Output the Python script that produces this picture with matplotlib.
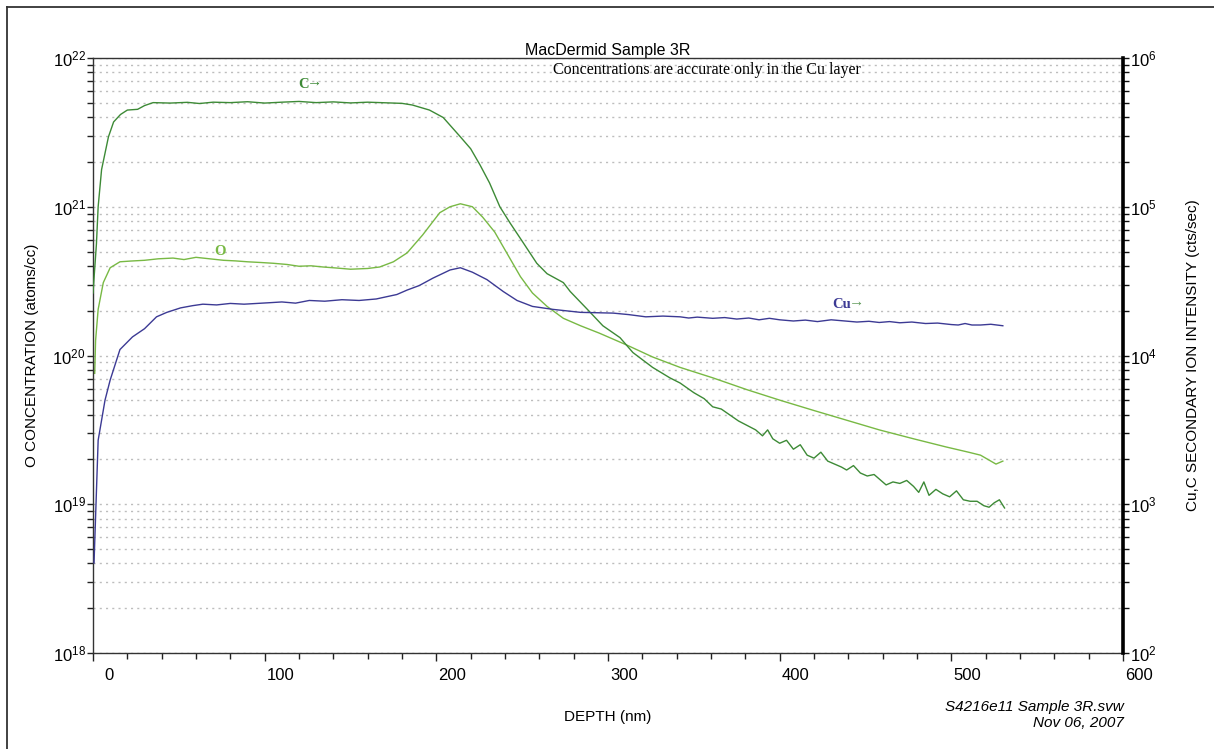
import matplotlib
matplotlib.use('Agg')
import matplotlib.pyplot as plt
import matplotlib.transforms as mtransforms
from matplotlib.lines import Line2D
from matplotlib.ticker import LogLocator, FixedLocator, MultipleLocator, NullFormatter
import numpy as np

plt.rcParams['font.family'] = ['Liberation Sans', 'DejaVu Sans']
plt.rcParams['mathtext.fontset'] = 'custom'
plt.rcParams['mathtext.rm'] = 'Liberation Sans'
plt.rcParams['mathtext.default'] = 'regular'

# values, log10 of the plotted quantity
# C and Cu: secondary ion intensity (cts/sec), right axis
c_depth = [0, 2, 3, 5, 7, 9, 12, 16, 20, 26, 30, 35, 45, 55, 62, 70, 80, 90, 100,
           110, 120, 130, 140, 150, 160, 170, 180, 186, 196, 204, 214, 220, 225.5,
           231, 237, 243, 250.5, 258.5, 264.5, 274, 278, 288, 297, 307, 314.5, 326,
           336, 342, 350, 356, 361, 366, 371, 376, 381, 386, 390, 393, 396, 400, 404,
           408, 412, 416, 420, 424, 428, 432, 436, 439, 443, 447, 451, 455, 458, 462,
           466, 470, 474, 478, 481, 484, 487, 491, 495, 499, 503, 507, 511, 515, 519,
           522, 525, 528, 531]
c_log = [4.42, 4.75, 5.0, 5.25, 5.36, 5.47, 5.57, 5.62, 5.65, 5.655, 5.68, 5.70,
         5.697, 5.702, 5.694, 5.703, 5.700, 5.706, 5.697, 5.703, 5.708, 5.700, 5.705,
         5.698, 5.703, 5.699, 5.695, 5.684, 5.65, 5.60, 5.47, 5.39, 5.28, 5.16, 5.00,
         4.89, 4.76, 4.62, 4.55, 4.49, 4.43, 4.31, 4.20, 4.12, 4.02, 3.92, 3.85, 3.815,
         3.75, 3.71, 3.655, 3.64, 3.60, 3.56, 3.53, 3.50, 3.46, 3.50, 3.44, 3.41, 3.43,
         3.37, 3.40, 3.33, 3.31, 3.35, 3.29, 3.27, 3.25, 3.23, 3.26, 3.21, 3.19, 3.20,
         3.17, 3.13, 3.15, 3.14, 3.16, 3.12, 3.08, 3.15, 3.06, 3.10, 3.07, 3.05, 3.09,
         3.03, 3.02, 3.02, 2.99, 2.98, 3.01, 3.03, 2.975]

cu_depth = [0.6, 3, 7, 10, 15.7, 23, 30, 37, 43, 51, 58, 64, 72, 80, 88, 95.5, 103,
            110, 118, 126, 135, 145, 155, 165, 177, 183, 190, 198, 208, 214, 221,
            229.5, 239, 247, 256, 268, 284, 303, 312, 322, 332, 342, 347, 352, 361,
            368, 375, 382, 388, 394, 400, 408, 415, 422, 430, 438, 445, 452, 458, 464,
            470, 477, 485, 492, 500, 504, 508, 512, 517, 523, 530]
cu_log = [2.605, 3.43, 3.70, 3.835, 4.04, 4.125, 4.18, 4.26, 4.29, 4.32, 4.335, 4.345,
          4.34, 4.35, 4.345, 4.35, 4.355, 4.36, 4.352, 4.37, 4.365, 4.375, 4.37, 4.38,
          4.41, 4.44, 4.47, 4.52, 4.575, 4.59, 4.56, 4.51, 4.43, 4.37, 4.33, 4.31, 4.29,
          4.285, 4.275, 4.26, 4.265, 4.26, 4.252, 4.258, 4.25, 4.255, 4.245, 4.252,
          4.24, 4.25, 4.24, 4.232, 4.238, 4.228, 4.24, 4.232, 4.225, 4.23, 4.222,
          4.228, 4.22, 4.225, 4.215, 4.218, 4.208, 4.205, 4.215, 4.205, 4.205, 4.21,
          4.20]

# O: concentration (atoms/cc), left axis
o_depth = [1, 1.5, 3, 6, 10, 15.7, 22, 30, 38, 46.6, 53, 60, 68, 76, 83, 90, 98, 105,
           113, 120, 127, 134, 142, 150, 160, 167, 175, 183, 192, 202, 208, 214, 221,
           227, 234, 241, 249, 256, 264.5, 274, 284, 295, 303, 311, 326, 342, 361, 381,
           400, 420, 439, 458, 478, 497, 510, 517, 526, 530]
o_log = [19.88, 20.1, 20.31, 20.49, 20.59, 20.63, 20.635, 20.64, 20.65, 20.655, 20.645,
         20.66, 20.65, 20.64, 20.636, 20.63, 20.625, 20.62, 20.612, 20.60, 20.603, 20.595,
         20.588, 20.58, 20.585, 20.595, 20.63, 20.69, 20.81, 20.96, 21.0, 21.02, 21.0,
         20.93, 20.83, 20.69, 20.53, 20.42, 20.33, 20.25, 20.20, 20.15, 20.11, 20.07,
         19.99, 19.92, 19.85, 19.77, 19.70, 19.63, 19.565, 19.50, 19.44, 19.385, 19.35,
         19.33, 19.27, 19.29]

c_color = '#3d8a36'
o_color = '#78b944'
cu_color = '#3c3a94'

fig = plt.figure(figsize=(12.14, 7.49), dpi=100)
ax = fig.add_axes([93 / 1214, 96 / 749, 1030 / 1214, 595 / 749])
ax2 = ax.twinx()

ax.plot(o_depth, 10 ** np.array(o_log), color=o_color, lw=1.0)
ax2.plot(c_depth, 10 ** np.array(c_log), color=c_color, lw=1.0)
ax2.plot(cu_depth, 10 ** np.array(cu_log), color=cu_color, lw=1.0)

ax.set_xlim(0, 600)
ax.set_yscale('log')
ax.set_ylim(1e18, 1e22)
ax2.set_yscale('log')
ax2.set_ylim(1e2, 1e6)

# ticks
ax.xaxis.set_major_locator(MultipleLocator(100))
ax.xaxis.set_minor_locator(MultipleLocator(20))
ax.tick_params(axis='x', which='major', direction='out', length=6, width=1,
               labelsize=12, pad=5, color='#222')
ax.tick_params(axis='x', which='minor', direction='out', length=4.3, width=1, color='#222')
shift = mtransforms.ScaledTranslation(0.16, 0, fig.dpi_scale_trans)
for lab in ax.get_xticklabels():
    lab.set_transform(lab.get_transform() + shift)

left_major = [10.0 ** k for k in range(18, 23)]
ax.yaxis.set_major_locator(FixedLocator(left_major))
ax.set_yticklabels(['$10^{%d}$' % k for k in range(18, 23)])
ax.yaxis.set_minor_locator(LogLocator(base=10, subs=np.arange(2, 10), numticks=20))
ax.yaxis.set_minor_formatter(NullFormatter())
ax.tick_params(axis='y', which='both', direction='out', length=4.3, width=1,
               labelsize=12, pad=1, color='#222')

right_major = [10.0 ** k for k in range(2, 7)]
ax2.yaxis.set_major_locator(FixedLocator(right_major))
ax2.set_yticklabels(['$10^{%d}$' % k for k in range(2, 7)])
ax2.yaxis.set_minor_locator(LogLocator(base=10, subs=np.arange(2, 10), numticks=20))
ax2.yaxis.set_minor_formatter(NullFormatter())
ax2.tick_params(axis='y', which='both', direction='out', length=4.3, width=1,
                labelsize=12, pad=1, color='#111')

ax.grid(True, axis='y', which='both', color='#bdbdbd', lw=1.0, linestyle=(0, (1.5, 3)))
ax.grid(False, axis='x')

for side in ['left', 'bottom', 'top']:
    ax.spines[side].set_color('#333')
    ax.spines[side].set_linewidth(1.0)
ax2.spines['right'].set_linewidth(2.6)
ax2.spines['right'].set_color('black')
for side in ['left', 'bottom', 'top']:
    ax2.spines[side].set_visible(False)

ax.set_title('MacDermid Sample 3R', fontsize=11.5, pad=1)
serif = ['Liberation Serif', 'DejaVu Serif']
ax.text(0.596, 0.980, 'Concentrations are accurate only in the Cu layer',
        transform=ax.transAxes, ha='center', va='center', fontsize=11.5, family=serif)

# series labels
ax2.text(119.5, 10 ** 5.82, 'C', color=c_color, fontsize=10.5, fontweight='bold',
         family=serif, ha='left', va='center')
ax2.text(124.5, 10 ** 5.84, '\u2192', color=c_color, fontsize=11, family=serif,
         ha='left', va='center')
ax.text(74, 10 ** 20.70, 'O', color=o_color, fontsize=10.5, fontweight='bold',
        family=serif, ha='center', va='center')
ax2.text(430.5, 10 ** 4.34, 'Cu', color=cu_color, fontsize=10.5, fontweight='bold',
         family=serif, ha='left', va='center')
ax2.text(440.5, 10 ** 4.36, '\u2192', color='#5f9a5a', fontsize=11, family=serif,
         ha='left', va='center')

fig.text(32 / 1214, 1 - 355 / 749, 'O CONCENTRATION (atoms/cc)', rotation=90,
         ha='center', va='center', fontsize=11)
fig.text(1193 / 1214, 1 - 355 / 749, 'Cu,C SECONDARY ION INTENSITY (cts/sec)',
         rotation=90, ha='center', va='center', fontsize=11)
fig.text(608 / 1214, 1 - 717 / 749, 'DEPTH (nm)', ha='center', va='center', fontsize=11)
fig.text(1124 / 1214, 1 - 707 / 749, 'S4216e11 Sample 3R.svw', ha='right', va='center',
         fontsize=11, style='italic')
fig.text(1124 / 1214, 1 - 723 / 749, 'Nov 06, 2007', ha='right', va='center',
         fontsize=11, style='italic')

# page frame (left and top edges)
fig.add_artist(Line2D([7 / 1214, 7 / 1214], [0, 1 - 7 / 749], color='#333', lw=1.3,
                      transform=fig.transFigure))
fig.add_artist(Line2D([7 / 1214, 1], [1 - 7 / 749, 1 - 7 / 749], color='#333', lw=1.3,
                      transform=fig.transFigure))

fig.savefig('out.png', dpi=100)
